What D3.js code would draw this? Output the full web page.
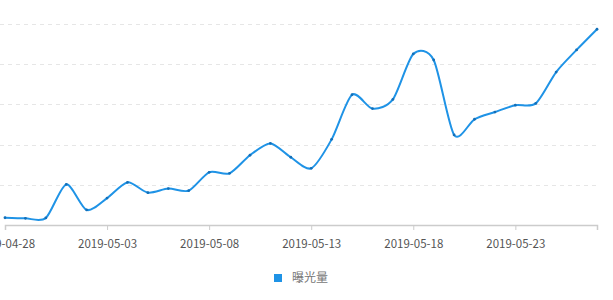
<!DOCTYPE html>
<html>
<head>
<meta charset="utf-8">
<script src="https://cdn.jsdelivr.net/npm/d3@7"></script>
<style>
  body { margin: 0; background: #fff; }
  text { font-family: "Noto Sans CJK SC", "Noto Sans", sans-serif; }
</style>
</head>
<body>
<svg id="chart"></svg>
<script>
const width = 613;
const height = 300;

// values
const startDate = '2019-04-28';
const seriesName = '曝光量';
const values = [36, 33, 35, 202, 75, 134, 212, 161, 181, 171,
    262, 257, 347, 406, 337, 282, 426, 648, 579, 625,
    851, 821, 448, 526, 562, 596, 605, 761, 871, 974];
const gridValues = [200, 400, 600, 800, 1000];

const parse = d3.utcParse('%Y-%m-%d');
const fmt = d3.utcFormat('%Y-%m-%d');
const dates = values.map((v, i) => d3.utcDay.offset(parse(startDate), i));
const data = values.map((v, i) => ({ date: dates[i], value: v }));

const svg = d3.select('#chart')
    .attr('width', width)
    .attr('height', height);

const x = d3.scaleUtc().domain(d3.extent(dates)).range([5, 597]);
const y = d3.scaleLinear().domain([0, 1000]).range([225, 24]);

// dashed grid
svg.append('g')
    .selectAll('line')
    .data(gridValues)
    .enter().append('line')
    .attr('x1', 0)
    .attr('x2', 597)
    .attr('y1', d => Math.round(y(d)) + 0.5)
    .attr('y2', d => Math.round(y(d)) + 0.5)
    .attr('stroke', '#e6e6e6')
    .attr('stroke-dasharray', '4,4');

// x axis
const tickDates = dates.filter((d, i) => i % 5 === 0);
const xAxis = svg.append('g')
    .attr('transform', 'translate(0, 225)')
    .call(d3.axisBottom(x).tickValues(tickDates).tickFormat(fmt).tickSize(5).tickPadding(10));
xAxis.select('.domain').attr('stroke', '#ccc').attr('stroke-width', 1.5);
xAxis.selectAll('.tick line').attr('stroke', '#ccc');
xAxis.selectAll('.tick text')
    .attr('fill', '#555')
    .style('font-size', '11.5px');

// line
const line = d3.line()
    .x(d => x(d.date))
    .y(d => y(d.value))
    .curve(d3.curveCardinal.tension(0.2));

svg.append('path')
    .datum(data)
    .attr('fill', 'none')
    .attr('stroke', '#1f93e6')
    .attr('stroke-width', 2)
    .attr('d', line);

svg.append('g')
    .selectAll('circle')
    .data(data)
    .enter().append('circle')
    .attr('cx', d => x(d.date))
    .attr('cy', d => y(d.value))
    .attr('r', 1.4)
    .attr('fill', '#136fb8');

// legend
const legend = svg.append('g').attr('transform', 'translate(274, 274)');
legend.append('rect')
    .attr('width', 8)
    .attr('height', 8)
    .attr('fill', '#1f93e6');
legend.append('text')
    .attr('x', 18)
    .attr('y', 4)
    .attr('dy', '0.35em')
    .attr('fill', '#777')
    .style('font-size', '12px')
    .text(seriesName);
</script>
</body>
</html>
